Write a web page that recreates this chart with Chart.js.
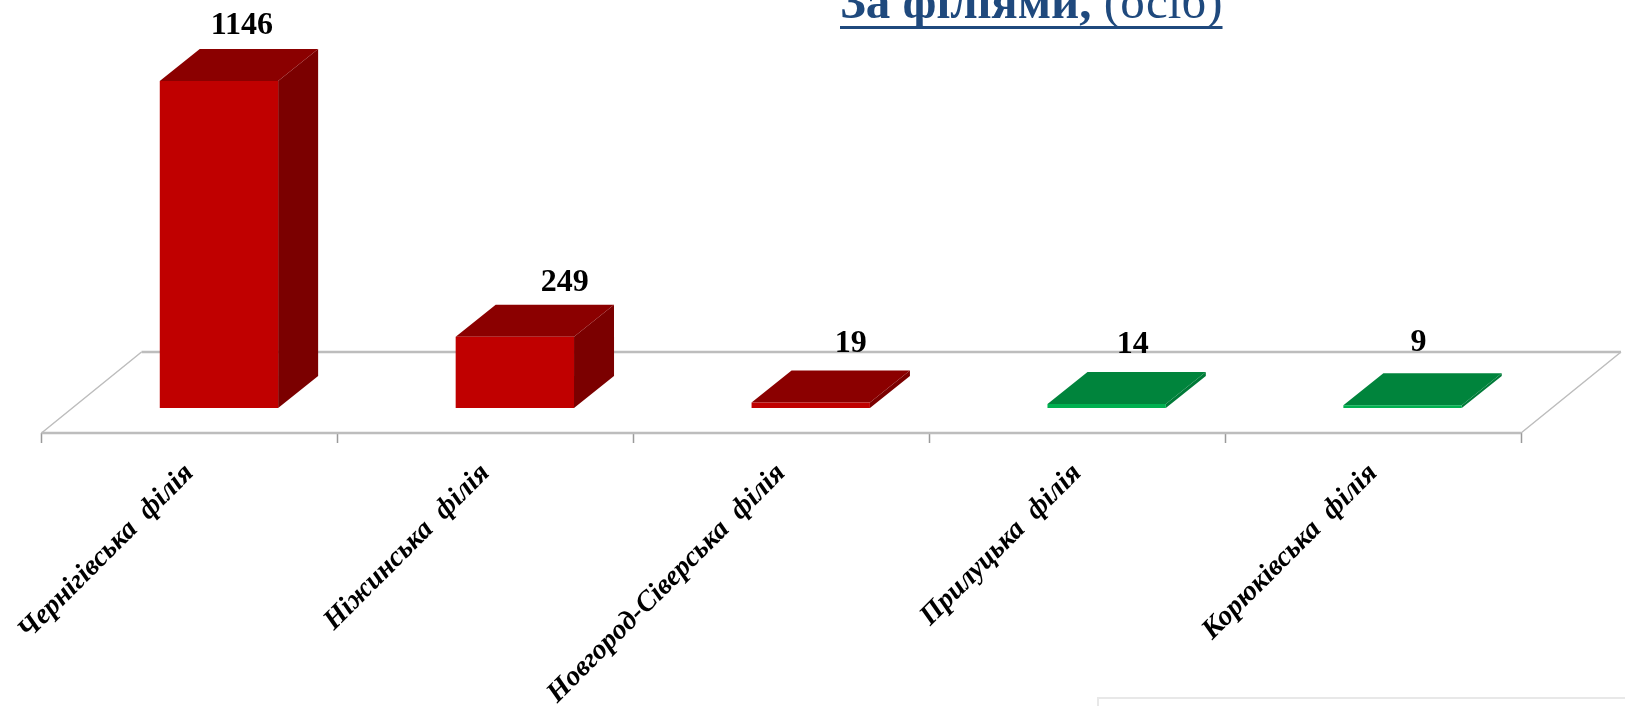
<!DOCTYPE html>
<html lang="uk">
<head>
<meta charset="utf-8">
<title>За філіями</title>
<script src="https://cdn.jsdelivr.net/npm/chart.js@4"></script>
<style>
	html, body { margin: 0; background: #fff; overflow: hidden; }
	#wrap { position: relative; width: 1625px; height: 706px; }
	#box { position: absolute; left: 1097px; top: 697px; width: 540px; height: 20px; border: 2px solid #e8e8e8; }
</style>
</head>
<body>
<div id="wrap">
	<canvas id="chart" width="1625" height="706"></canvas>
	<div id="box"></div>
</div>
<script>
const categories = [
	"Чернігівська  філія",
	"Ніжинська  філія",
	"Новгород-Сіверська  філія",
	"Прилуцька  філія",
	"Корюківська  філія",
];
const people = [1146, 249, 19, 14, 9];
const frontColors = ["#C00000", "#C00000", "#C00000", "#00B050", "#00B050"];
const topColors = ["#8B0000", "#8B0000", "#8B0000", "#00843C", "#00843C"];
const sideColors = ["#7B0000", "#7B0000", "#7B0000", "#007A38", "#007A38"];

const titleBold = "За філіями,";
const titleRest = " (осіб)";

// fake 3d: bar depth, floor depth, and how far bars sit back on the floor
const barDepth = { x: 40, y: 32 };
const floorDepth = { x: 100, y: 81 };
const barShift = 29.5;
// the value labels were hand placed in the original
const labelNudgeX = [23, 50, 40, 26, 16];
const labelNudgeY = [47, 46, 50, 51, 54];

function poly(ctx, color, pts) {
	ctx.fillStyle = color;
	ctx.beginPath();
	pts.forEach((p, i) => (i ? ctx.lineTo(p[0], p[1]) : ctx.moveTo(p[0], p[1])));
	ctx.closePath();
	ctx.fill();
}

const floorPlugin = {
	id: "floor",
	beforeDatasetsDraw(chart) {
		const { ctx, chartArea: a } = chart;
		ctx.save();
		ctx.strokeStyle = "#BDBDBD";
		ctx.lineWidth = 2.5;
		ctx.beginPath();
		ctx.moveTo(a.left, a.bottom);
		ctx.lineTo(a.right, a.bottom);
		ctx.moveTo(a.left + floorDepth.x, a.bottom - floorDepth.y);
		ctx.lineTo(a.right + floorDepth.x, a.bottom - floorDepth.y);
		ctx.stroke();
		ctx.lineWidth = 1.5;
		ctx.beginPath();
		ctx.moveTo(a.left, a.bottom);
		ctx.lineTo(a.left + floorDepth.x, a.bottom - floorDepth.y);
		ctx.moveTo(a.right, a.bottom);
		ctx.lineTo(a.right + floorDepth.x, a.bottom - floorDepth.y);
		ctx.stroke();
		ctx.restore();
	},
};

const bars3dPlugin = {
	id: "bars3d",
	beforeDatasetDraw(chart, args) {
		const ctx = chart.ctx;
		ctx.save();
		ctx.translate(barShift, 0);
		args.meta.data.forEach((bar, i) => {
			const l = bar.x - bar.width / 2;
			const r = bar.x + bar.width / 2;
			const dx = barDepth.x;
			const dy = barDepth.y;
			poly(ctx, sideColors[i], [[r, bar.y], [r + dx, bar.y - dy], [r + dx, bar.base - dy], [r, bar.base]]);
			poly(ctx, topColors[i], [[l, bar.y], [l + dx, bar.y - dy], [r + dx, bar.y - dy], [r, bar.y]]);
		});
	},
	afterDatasetDraw(chart, args) {
		const ctx = chart.ctx;
		ctx.restore();
		ctx.save();
		ctx.fillStyle = "#000";
		ctx.font = "bold 32px 'Liberation Serif'";
		ctx.textAlign = "center";
		ctx.textBaseline = "alphabetic";
		args.meta.data.forEach((bar, i) => {
			ctx.fillText(String(people[i]), bar.x + barShift + labelNudgeX[i], bar.y - labelNudgeY[i]);
		});
		ctx.restore();
	},
};

const titlePlugin = {
	id: "cutTitle",
	afterDraw(chart) {
		const ctx = chart.ctx;
		const x = 840;
		const y = 18;
		const boldFont = "bold 49px 'Liberation Serif'";
		const restFont = "49px 'Liberation Serif'";
		ctx.save();
		ctx.fillStyle = "#1F497D";
		ctx.textBaseline = "alphabetic";
		ctx.font = boldFont;
		ctx.fillText(titleBold, x, y);
		const w1 = ctx.measureText(titleBold).width;
		ctx.font = restFont;
		ctx.fillText(titleRest, x + w1, y);
		const w2 = ctx.measureText(titleRest).width;
		ctx.fillRect(x, 26, w1 + w2, 3);
		ctx.restore();
	},
};

new Chart(document.getElementById("chart").getContext("2d"), {
	type: "bar",
	data: {
		labels: categories,
		datasets: [
			{
				label: "За філіями",
				data: people,
				backgroundColor: frontColors,
				borderWidth: 0,
				barPercentage: 0.4,
				categoryPercentage: 1,
				clip: false,
			},
		],
	},
	plugins: [floorPlugin, bars3dPlugin, titlePlugin],
	options: {
		responsive: false,
		animation: false,
		layout: { padding: { left: 41.5, right: 104, top: 0, bottom: 0 } },
		plugins: {
			legend: { display: false },
			title: { display: false },
			tooltip: { enabled: false },
		},
		scales: {
			x: {
				grid: {
					drawOnChartArea: false,
					drawTicks: true,
					tickLength: 10,
					tickColor: "#9a9a9a",
					tickWidth: 1.5,
				},
				border: { display: false },
				ticks: {
					autoSkip: false,
					minRotation: 45,
					maxRotation: 45,
					padding: 14,
					color: "#000",
					font: { family: "'Liberation Serif'", size: 28.4, style: "italic", weight: "bold" },
				},
				afterFit(scale) {
					scale.height = 273;
					scale.paddingLeft = 0;
					scale.paddingRight = 0;
				},
			},
			y: {
				display: false,
				min: -88,
				max: 1430,
			},
		},
	},
});
</script>
</body>
</html>
